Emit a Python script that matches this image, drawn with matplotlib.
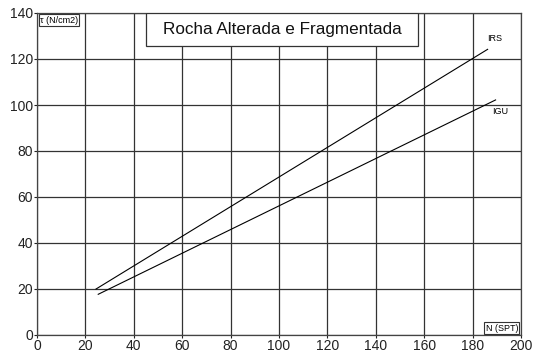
import matplotlib.pyplot as plt

plt.rcParams['font.family'] = ['Liberation Sans', 'DejaVu Sans']

# Shear strength vs SPT blow count, two correlations
n_irs = [24.4, 186.2]
tau_irs = [20.0, 124.2]
n_igu = [25.3, 189.5]
tau_igu = [17.7, 102.2]

x_ticks = list(range(0, 201, 20))
y_ticks = list(range(0, 141, 20))

fig = plt.figure(figsize=(5.36, 3.54), dpi=100)
ax = fig.add_axes([37 / 536, 19 / 354, 484 / 536, 322 / 354])

ax.set_xlim(0, 200)
ax.set_ylim(0, 140)
ax.set_xticks(x_ticks)
ax.set_yticks(y_ticks)
ax.tick_params(length=2, width=0.8, pad=1, labelsize=10, colors='#222222')
ax.grid(True, color='#333333', linewidth=0.9)
for s in ax.spines.values():
    s.set_color('#444444')
    s.set_linewidth(0.9)

ax.plot(n_irs, tau_irs, color='black', linewidth=0.8)
ax.plot(n_igu, tau_igu, color='black', linewidth=0.8)
ax.text(186, 127, 'IRS', fontsize=6.5, ha='left', va='bottom')
ax.text(188, 97, 'IGU', fontsize=6.5, ha='left', va='center')

# title box
ax.add_patch(plt.Rectangle((45, 125.7), 112.4, 14.3, facecolor='white',
                           edgecolor='#333333', linewidth=0.9, zorder=3))
ax.text(101.2, 132.9, 'Rocha Alterada e Fragmentada', fontsize=12.3,
        ha='center', va='center', color='#111111', zorder=4)

# axis label boxes
ax.text(1.2, 138.8, 'τ (N/cm2)', fontsize=6.5, ha='left', va='top', zorder=4,
        bbox=dict(boxstyle='square,pad=0.15', facecolor='white',
                  edgecolor='#333333', linewidth=0.8))
ax.text(198.8, 1.0, 'N (SPT)', fontsize=6.5, ha='right', va='bottom', zorder=4,
        bbox=dict(boxstyle='square,pad=0.15', facecolor='white',
                  edgecolor='#333333', linewidth=0.8))

fig.savefig('out.png', dpi=100)
